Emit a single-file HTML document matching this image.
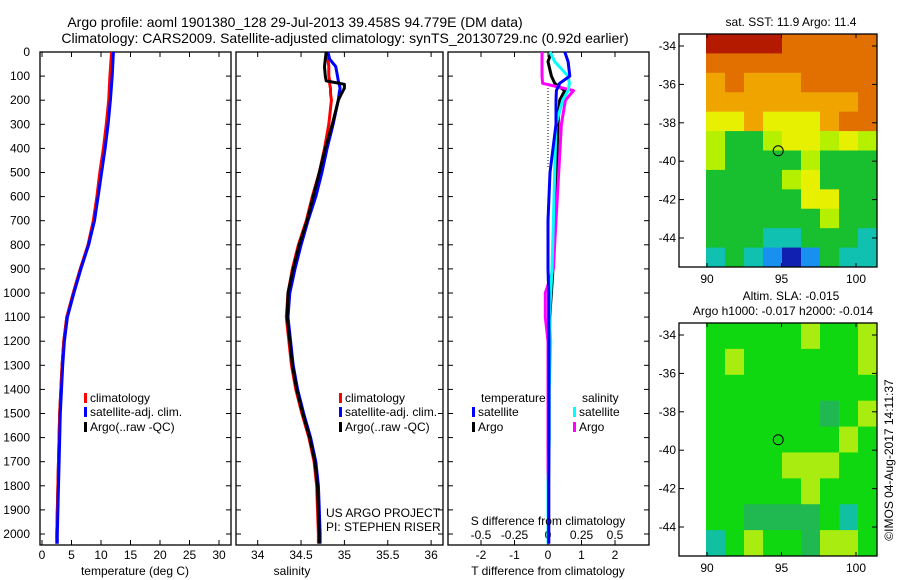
<!DOCTYPE html>
<html><head><meta charset="utf-8"><style>
body{margin:0;background:#fff}
svg{display:block;font-family:"Liberation Sans",sans-serif}
text{fill:#000}
</style></head><body>
<svg id="fig" width="900" height="580" viewBox="0 0 900 580" xmlns="http://www.w3.org/2000/svg">
<rect width="900" height="580" fill="#fff"/>
<text x="295" y="27" font-size="14" text-anchor="middle">Argo profile: aoml 1901380_128 29-Jul-2013 39.458S 94.779E (DM data)</text>
<text x="345" y="43" font-size="14" text-anchor="middle">Climatology: CARS2009. Satellite-adjusted climatology: synTS_20130729.nc (0.92d earlier)</text>
<g id="g1"></g>
<g id="g2"></g>
<g id="g3"></g>
<g id="m1"></g>
<g id="m2"></g>
<text x="292" y="575" font-size="12" text-anchor="middle">salinity</text>
<text x="135" y="575" font-size="12" text-anchor="middle">temperature (deg C)</text>
<text x="548" y="575" font-size="12" text-anchor="middle">T difference from climatology</text>
<text x="548" y="525" font-size="12" text-anchor="middle">S difference from climatology</text>
<text x="326" y="517" font-size="12">US ARGO PROJECT</text>
<text x="326" y="531" font-size="12">PI: STEPHEN RISER</text>
<text x="791" y="26" font-size="12" text-anchor="middle">sat. SST: 11.9 Argo: 11.4</text>
<text x="791" y="300" font-size="12" text-anchor="middle">Altim. SLA: -0.015</text>
<text x="783" y="315" font-size="12" text-anchor="middle">Argo h1000: -0.017 h2000: -0.014</text>
<text transform="translate(893,460) rotate(-90)" font-size="12" text-anchor="middle">©IMOS 04-Aug-2017 14:11:37</text>
</svg>
<script>
// ---- data ----
const depthT=[0,100,200,300,400,500,600,700,800,900,1000,1100,1200,1300,1400,1500,1700,2000,2040];
const tempClim=[11.8,11.5,11.3,10.9,10.4,9.8,9.3,8.7,7.8,6.5,5.3,4.2,3.7,3.4,3.2,3.0,2.8,2.5,2.5];
const tempSat=[12.1,11.9,11.6,11.2,10.7,10.1,9.5,8.9,7.9,6.6,5.4,4.3,3.8,3.5,3.3,3.1,2.9,2.6,2.6];
const tempArgo=[11.9,11.7,11.5,11.1,10.6,10.0,9.4,8.8,7.9,6.5,5.3,4.2,3.7,3.4,3.2,3.0,2.8,2.5,2.5];
const depthS=[0,30,60,100,120,134,150,170,200,300,400,500,600,700,800,900,1000,1100,1200,1300,1400,1500,1600,1700,1800,1900,2000,2040];
const salClim=[34.81,34.81,34.82,34.82,34.83,34.83,34.84,34.84,34.85,34.82,34.77,34.71,34.63,34.56,34.47,34.40,34.35,34.33,34.36,34.39,34.44,34.51,34.59,34.65,34.68,34.69,34.70,34.70];
const salSat=[34.81,34.83,34.90,34.92,34.93,34.94,34.95,34.94,34.93,34.87,34.80,34.74,34.67,34.58,34.50,34.43,34.37,34.35,34.38,34.41,34.46,34.53,34.61,34.67,34.70,34.71,34.72,34.72];
const salArgo=[34.79,34.78,34.77,34.78,34.79,35.00,35.00,34.97,34.93,34.86,34.78,34.71,34.64,34.57,34.48,34.41,34.35,34.34,34.37,34.40,34.45,34.52,34.60,34.66,34.69,34.70,34.71,34.71];
const depthD=[0,40,100,130,160,200,300,500,700,900,1000,1100,1200,1400,1600,1800,2040];
const dTsat=[0.5,0.6,0.65,0.35,0.25,0.24,0.24,0.06,0.0,0.0,0.02,0.02,0.03,0.03,0.03,0.02,0.02];
const dTargo=[0.1,0.0,0.1,0.2,0.5,0.35,0.3,0.25,0.2,0.15,0.1,0.05,0.05,0.03,0.02,0.02,0.02];
const dSsat=[0.015,0.05,0.15,0.16,0.15,0.11,0.06,0.05,0.04,0.03,0.02,0.01,0.02,0.01,0.01,0.0,0.0];
const dSargo=[-0.045,-0.045,-0.045,-0.04,0.19,0.13,0.10,0.08,0.06,0.04,-0.02,-0.02,0.0,0.0,0.0,0.0,0.0];
const depthTicks=[0,100,200,300,400,500,600,700,800,900,1000,1100,1200,1300,1400,1500,1600,1700,1800,1900,2000];
const tTicks=[0,5,10,15,20,25,30];
const sTicks=[34,34.5,35,35.5,36];
const sTickLabels=["34","34.5","35","35.5","36"];
const dTTicks=[-2,-1,0,1,2];
const dSTicks=[-0.5,-0.25,0,0.25,0.5];
const dSTickLabels=["-0.5","-0.25","0","0.25","0.5"];
const latTicks=[-34,-36,-38,-40,-42,-44];
const lonTicks=[90,95,100];
const argoLon=94.779, argoLat=-39.458;
const sstRows=["RRRROOOOO","OOOOOOOOO","oOoooOOOO","ooooooooO","YYoYYYoOO","yGGyYYyYy","yGGGGyGGG","GGGGyYGGG","GGGGGYYGG","GGGGGGyGG","GGGCCGGGC","CGCBDBGCC"];
const slaRows=["gggggyggy","gyggggggy","ggggggggg","ggggggGgy","gggggggyg","ggggyyygg","gggggyggg","ggGGGGgCg","CgyggGyyg"];
// ---- helpers ----
const NS="http://www.w3.org/2000/svg";
function el(parent,tag,attrs){const e=document.createElementNS(NS,tag);for(const k in attrs)e.setAttribute(k,attrs[k]);parent.appendChild(e);return e;}
const Y0=52,Y1=545,pxPerM=0.241;
const yD=d=>Y0+d*pxPerM;
function frame(g,x0,x1,name){
  const r=el(g,'rect',{x:x0,y:Y0,width:x1-x0,height:Y1-Y0,fill:'none',stroke:'#000','stroke-width':1.3});
  
  
  depthTicks.forEach(d=>{
    el(g,'line',{x1:x0,x2:x0+5,y1:yD(d),y2:yD(d),stroke:'#000'});
    el(g,'line',{x1:x1,x2:x1-5,y1:yD(d),y2:yD(d),stroke:'#000'});
  });
}
function line(g,xs,ds,fx,color,name,w){
  const pts=xs.map((v,i)=>fx(v).toFixed(1)+','+yD(ds[i]).toFixed(1)).join(' ');
  const p=el(g,'polyline',{points:pts,fill:'none',stroke:color,'stroke-width':w||3,'stroke-linejoin':'round'});
  
  
}
function xticks(g,vals,labels,fx,ly){
  vals.forEach((v,i)=>{
    el(g,'line',{x1:fx(v),x2:fx(v),y1:Y0,y2:Y0+5,stroke:'#000'});
    el(g,'line',{x1:fx(v),x2:fx(v),y1:Y1,y2:Y1-5,stroke:'#000'});
    if(ly){const t=el(g,'text',{x:fx(v),y:ly,'font-size':12,'text-anchor':'middle'});t.textContent=labels[i];
    
    }
  });
}
function legend(g,x,y,color,label){
  el(g,'rect',{x:x,y:y-9,width:3,height:10,fill:color});
  const t=el(g,'text',{x:x+6,y:y,'font-size':12});t.textContent=label;
  
  
}
// ---- panel 1 ----
const g1=document.getElementById('g1');
const fT=v=>42+v*5.9;
frame(g1,40,231,'temperature');
depthTicks.forEach(d=>{const t=el(g1,'text',{x:30,y:yD(d)+4,'font-size':12,'text-anchor':'end'});t.textContent=d;

});
xticks(g1,tTicks,tTicks.map(String),fT,559);
line(g1,tempArgo,depthT,fT,'#000','temp-argo-line');
line(g1,tempClim,depthT,fT,'#f00','temp-climatology-line');
line(g1,tempSat,depthT,fT,'#00f','temp-satellite-line');
legend(g1,84,402,'#f00','climatology');legend(g1,84,416,'#00f','satellite-adj. clim.');legend(g1,84,431,'#000','Argo(..raw -QC)');
// ---- panel 2 ----
const g2=document.getElementById('g2');
const fS=v=>257.7+(v-34)*86.7;
frame(g2,236,443,'salinity');
xticks(g2,sTicks,sTickLabels,fS,559);
line(g2,salClim,depthS,fS,'#f00','sal-climatology-line');
line(g2,salSat,depthS,fS,'#00f','sal-satellite-line');
line(g2,salArgo,depthS,fS,'#000','sal-argo-line');
legend(g2,339,402,'#f00','climatology');legend(g2,339,416,'#00f','satellite-adj. clim.');legend(g2,339,431,'#000','Argo(..raw -QC)');
// ---- panel 3 ----
const g3=document.getElementById('g3');
const fDT=v=>548+v*33.5, fDS=v=>548+v*134;
frame(g3,448,649,'difference');
xticks(g3,dTTicks,dTTicks.map(String),fDT,559);
dSTicks.forEach((v,i)=>{const t=el(g3,'text',{x:fDS(v),y:539,'font-size':12,'text-anchor':'middle'});t.textContent=dSTickLabels[i];

});
el(g3,'line',{x1:548,x2:548,y1:85,y2:168,stroke:'#000','stroke-dasharray':'1,2'});
line(g3,dTargo,depthD,fDT,'#000','dt-argo-line');
line(g3,dSargo,depthD,fDS,'#f0f','ds-argo-line');
line(g3,dSsat,depthD,fDS,'#0ff','ds-satellite-line');
line(g3,dTsat,depthD,fDT,'#00f','dt-satellite-line');
[['temperature',481,402],['salinity',582,402]].forEach(a=>{const t=el(g3,'text',{x:a[1],y:a[2],'font-size':12});t.textContent=a[0];

});
legend(g3,472,416,'#00f','satellite');legend(g3,472,431,'#000','Argo');
legend(g3,573,416,'#0ff','satellite');legend(g3,573,431,'#f0f','Argo');
// ---- maps ----
const pal={R:'#b41a00',O:'#e27000',o:'#f0a400',Y:'#e6f000',y:'#b4f000',G:'#18c030',g:'#10d810',C:'#10c0b0',B:'#1890f0',D:'#1020b0'};
function map(id,rows,top,name,p){
  const g=document.getElementById(id);
  const bot=top+233, x0=706, x1=877;
  const fx=lon=>707+(lon-90)*14.9, fy=lat=>top+12+(-34-lat)*19.2;
  const nr=rows.length, nc=rows[0].length, cw=(x1-x0)/nc, ch=(bot-top)/nr;
  rows.forEach((r,i)=>[...r].forEach((c,j)=>{
    const cell=el(g,'rect',{x:x0+j*cw,y:top+i*ch,width:cw+0.5,height:ch+0.5,fill:p[c]});
    
    
  }));
  el(g,'rect',{x:679,y:top,width:198,height:233,fill:'none',stroke:'#000','stroke-width':1.3});
  latTicks.forEach(l=>{el(g,'line',{x1:679,x2:684,y1:fy(l),y2:fy(l),stroke:'#000'});el(g,'line',{x1:877,x2:872,y1:fy(l),y2:fy(l),stroke:'#000'});
    const t=el(g,'text',{x:676,y:fy(l)+4,'font-size':12,'text-anchor':'end'});t.textContent=l;
    
    });
  lonTicks.forEach(l=>{el(g,'line',{x1:fx(l),x2:fx(l),y1:top,y2:top+4,stroke:'#000'});el(g,'line',{x1:fx(l),x2:fx(l),y1:bot,y2:bot-4,stroke:'#000'});
    const t=el(g,'text',{x:fx(l),y:bot+16,'font-size':12,'text-anchor':'middle'});t.textContent=l;
    
    });
  const c=el(g,'circle',{cx:fx(argoLon),cy:fy(argoLat),r:5,fill:'none',stroke:'#000'});
  
  
}
map('m1',sstRows,34,'sst',pal);
map('m2',slaRows,323,'sla',{g:'#10d810',G:'#20b850',y:'#a8ec10',Y:'#d8f000',C:'#10c0a0'});
</script>
</body></html>
